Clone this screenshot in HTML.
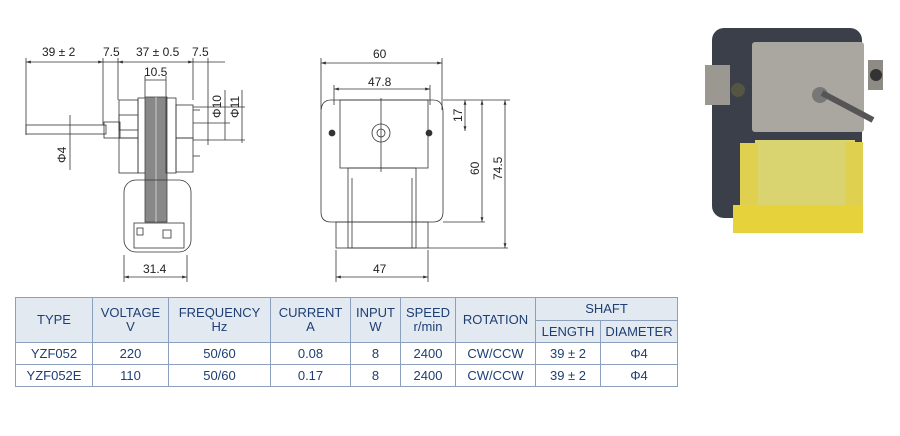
<!DOCTYPE html>
<html><head><meta charset="utf-8"><style>
body{margin:0;width:900px;height:436px;background:#fff;overflow:hidden;font-family:"Liberation Sans",sans-serif}
svg{position:absolute;left:0;top:0}
table{position:absolute;left:15px;top:297px;border-collapse:collapse;font-size:13px;color:#1d3f73;font-family:"Liberation Sans",sans-serif}
td{border:1px solid #8aa0bd;text-align:center;padding:0;line-height:14px}
.h{background:#e3e9f1}
</style></head><body>
<svg width="900" height="436" viewBox="0 0 900 436" font-family="Liberation Sans" font-size="11" fill="none" stroke="#333" stroke-width="0.8">
<defs><marker id="a" viewBox="0 0 10 10" refX="10" refY="5" markerWidth="6" markerHeight="6" orient="auto-start-reverse"><path d="M0 2L10 5L0 8Z" fill="#333" stroke="none"/></marker></defs>
<g>
<line x1="26" y1="58" x2="26" y2="135"/><line x1="103" y1="58" x2="103" y2="125"/><line x1="118" y1="58" x2="118" y2="100"/><line x1="193" y1="58" x2="193" y2="100"/><line x1="208" y1="58" x2="208" y2="145"/>
<line x1="26" y1="62" x2="103" y2="62" marker-start="url(#a)" marker-end="url(#a)"/>
<line x1="118" y1="62" x2="193" y2="62" marker-start="url(#a)" marker-end="url(#a)"/>
<line x1="103" y1="62" x2="118" y2="62"/><line x1="193" y1="62" x2="225" y2="62"/>
<line x1="145" y1="80" x2="166" y2="80"/><line x1="145" y1="76" x2="145" y2="97"/><line x1="166" y1="76" x2="166" y2="97"/>
<rect x="26" y="125" width="80" height="9"/>
<rect x="104" y="122" width="16" height="16"/>
<rect x="119" y="100" width="19" height="38"/><rect x="119" y="115" width="19" height="15"/><rect x="119" y="138" width="19" height="35"/>
<rect x="138" y="98" width="9" height="75"/>
<rect x="145" y="97" width="22" height="125" fill="#888" stroke="#444"/>
<line x1="156" y1="97" x2="156" y2="222" stroke="#ddd"/>
<rect x="166" y="98" width="10" height="75"/>
<rect x="176" y="105" width="17" height="33"/><rect x="176" y="138" width="17" height="34"/>
<line x1="193" y1="110" x2="200" y2="110"/><line x1="193" y1="156" x2="200" y2="156"/>
<rect x="124" y="180" width="67" height="72" rx="12"/>
<rect x="134" y="223" width="50" height="25"/><rect x="137" y="228" width="6" height="7"/><rect x="163" y="230" width="8" height="8"/>
<line x1="124" y1="255" x2="124" y2="282"/><line x1="187" y1="255" x2="187" y2="282"/><line x1="124" y1="277" x2="187" y2="277" marker-start="url(#a)" marker-end="url(#a)"/>
<line x1="70" y1="115" x2="70" y2="170"/>
<line x1="193" y1="123" x2="230" y2="123"/><line x1="193" y1="140" x2="245" y2="140"/><line x1="193" y1="107" x2="245" y2="107"/>
<line x1="225" y1="90" x2="225" y2="140"/><line x1="242" y1="90" x2="242" y2="143"/>
</g>
<g fill="#222" stroke="none" font-size="12">
<text x="42" y="56">39 ± 2</text><text x="103" y="56">7.5</text><text x="136" y="56">37 ± 0.5</text><text x="192" y="56">7.5</text>
<text x="144" y="76">10.5</text><text x="143" y="273">31.4</text>
<text transform="translate(66,163) rotate(-90)">Φ4</text>
<text transform="translate(221,118) rotate(-90)">Φ10</text><text transform="translate(239,118) rotate(-90)">Φ11</text>
</g>
<g>
<line x1="321" y1="58" x2="321" y2="110"/><line x1="442" y1="58" x2="442" y2="110"/><line x1="321" y1="63" x2="442" y2="63" marker-start="url(#a)" marker-end="url(#a)"/>
<line x1="334" y1="85" x2="334" y2="105"/><line x1="430" y1="85" x2="430" y2="105"/><line x1="334" y1="89" x2="430" y2="89" marker-start="url(#a)" marker-end="url(#a)"/>
<path d="M331 100 H433 Q443 100 443 112 V212 Q443 222 433 222 H331 Q321 222 321 212 V112 Q321 100 331 100Z"/>
<rect x="340" y="100" width="88" height="68"/>
<circle cx="381" cy="133" r="9"/><circle cx="381" cy="133" r="4"/>
<circle cx="332" cy="133" r="3" fill="#333"/><circle cx="429" cy="133" r="3" fill="#333"/>
<line x1="381" y1="98" x2="381" y2="172"/>
<rect x="348" y="168" width="68" height="80"/><line x1="352" y1="178" x2="352" y2="248"/><line x1="412" y1="178" x2="412" y2="248"/>
<rect x="336" y="222" width="92" height="26"/>
<line x1="336" y1="250" x2="336" y2="282"/><line x1="428" y1="250" x2="428" y2="282"/><line x1="336" y1="277" x2="428" y2="277" marker-start="url(#a)" marker-end="url(#a)"/>
<line x1="443" y1="100" x2="510" y2="100"/><line x1="443" y1="222" x2="485" y2="222"/><line x1="428" y1="248" x2="508" y2="248"/>
<line x1="465" y1="100" x2="465" y2="131" marker-start="url(#a)" marker-end="url(#a)"/><line x1="482" y1="100" x2="482" y2="222" marker-start="url(#a)" marker-end="url(#a)"/><line x1="505" y1="100" x2="505" y2="248" marker-start="url(#a)" marker-end="url(#a)"/>
</g>
<g fill="#222" stroke="none" font-size="12">
<text x="373" y="58">60</text><text x="368" y="86">47.8</text><text x="373" y="273">47</text>
<text transform="translate(462,122) rotate(-90)">17</text><text transform="translate(479,175) rotate(-90)">60</text><text transform="translate(502,180) rotate(-90)">74.5</text>
</g>
<g stroke="none">
<rect x="712" y="28" width="150" height="190" rx="12" fill="#3a3f4a"/>
<rect x="705" y="65" width="25" height="40" fill="#9a9890"/>
<rect x="752" y="42" width="112" height="90" rx="3" fill="#a9a79f"/>
<rect x="868" y="60" width="15" height="30" fill="#8d8b84"/>
<circle cx="738" cy="90" r="7" fill="#554"/><circle cx="876" cy="75" r="6" fill="#333"/>
<circle cx="820" cy="95" r="8" fill="#777"/><line x1="822" y1="93" x2="873" y2="120" stroke="#555" stroke-width="6"/>
<rect x="755" y="140" width="100" height="82" fill="#d9d470"/>
<rect x="740" y="143" width="18" height="90" fill="#e0d050"/><rect x="845" y="142" width="18" height="90" fill="#e0d050"/>
<rect x="733" y="205" width="130" height="28" fill="#e6d33c"/>
</g>
</svg>
<table>
<tr class="h"><td rowspan="2" style="width:76px;height:44px">TYPE</td><td rowspan="2" style="width:75px">VOLTAGE<br>V</td><td rowspan="2" style="width:101px">FREQUENCY<br>Hz</td><td rowspan="2" style="width:79px">CURRENT<br>A</td><td rowspan="2" style="width:49px">INPUT<br>W</td><td rowspan="2" style="width:54px">SPEED<br>r/min</td><td rowspan="2" style="width:79px">ROTATION</td><td colspan="2" style="height:22px">SHAFT</td></tr>
<tr class="h"><td style="width:64px;height:21px">LENGTH</td><td style="width:76px">DIAMETER</td></tr>
<tr><td style="height:21px">YZF052</td><td>220</td><td>50/60</td><td>0.08</td><td>8</td><td>2400</td><td>CW/CCW</td><td>39 ± 2</td><td>Φ4</td></tr>
<tr><td style="height:21px">YZF052E</td><td>110</td><td>50/60</td><td>0.17</td><td>8</td><td>2400</td><td>CW/CCW</td><td>39 ± 2</td><td>Φ4</td></tr>
</table>
</body></html>
